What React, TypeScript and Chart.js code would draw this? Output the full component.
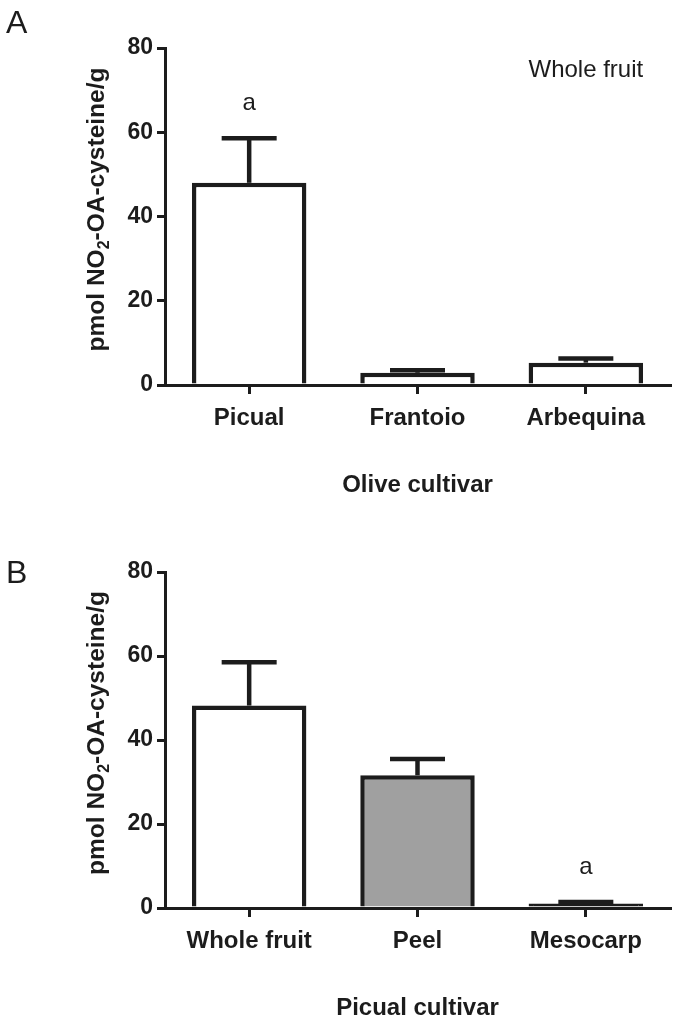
import React, { useEffect, useRef } from "react";
import { Chart, registerables } from "chart.js";

Chart.register(...registerables);

// ---------- data ----------
const categoriesA = ["Picual", "Frantoio", "Arbequina"];
const meansA = [48.0, 2.9, 5.3];
const errTopA = [58.6, 3.5, 6.3];

const categoriesB = ["Whole fruit", "Peel", "Mesocarp"];
const meansB = [48.2, 31.6, 1.1];
const errTopB = [58.5, 35.5, 1.4];

const yTicks = [0, 20, 40, 60, 80];

// annotation texts (category index, value at text baseline)
const notesA = [
  { text: "a", index: 0, value: 65.3 },
  { text: "Whole fruit", index: 2, value: 73.2 },
];
const notesB = [{ text: "a", index: 2, value: 8.1 }];

const xTitleA = "Olive cultivar";
const xTitleB = "Picual cultivar";

// ---------- style ----------
const INK = "#1c1c1c";
const FAMILY = "'Liberation Sans', Arial, Helvetica, sans-serif";
const W = 677;
const H = 511;

type Panel = {
  letter: string;
  letterBaseline: number;
  categories: string[];
  means: number[];
  errTop: number[];
  fills: string[];
  notes: { text: string; index: number; value: number }[];
  xTitle: string;
  top: number;
  bottom: number;
};

const panelA: Panel = {
  letter: "A",
  letterBaseline: 33,
  categories: categoriesA,
  means: meansA,
  errTop: errTopA,
  fills: ["#ffffff", "#ffffff", "#ffffff"],
  notes: notesA,
  xTitle: xTitleA,
  top: 48,
  bottom: 385,
};

const panelB: Panel = {
  letter: "B",
  letterBaseline: 72,
  categories: categoriesB,
  means: meansB,
  errTop: errTopB,
  fills: ["#ffffff", "#a0a0a0", INK],
  notes: notesB,
  xTitle: xTitleB,
  top: 61,
  bottom: 397,
};

function drawYTitle(ctx: CanvasRenderingContext2D, baselineX: number, yc: number) {
  ctx.save();
  ctx.translate(baselineX, yc);
  ctx.rotate(-Math.PI / 2);
  const big = `bold 24.5px ${FAMILY}`;
  const small = `bold 16px ${FAMILY}`;
  const parts = [
    { t: "pmol NO", f: big, dy: 0 },
    { t: "2", f: small, dy: 5 },
    { t: "-OA-cysteine/g", f: big, dy: 0 },
  ];
  let total = 0;
  for (const p of parts) {
    ctx.font = p.f;
    total += ctx.measureText(p.t).width;
  }
  let x = -total / 2;
  ctx.fillStyle = INK;
  ctx.textBaseline = "alphabetic";
  ctx.textAlign = "left";
  for (const p of parts) {
    ctx.font = p.f;
    ctx.fillText(p.t, x, p.dy);
    x += ctx.measureText(p.t).width;
  }
  ctx.restore();
}

function makeOverlay(panel: Panel) {
  return {
    id: "overlay" + panel.letter,
    afterDatasetsDraw(chart: any) {
      const ctx: CanvasRenderingContext2D = chart.ctx;
      const xs = chart.scales.x;
      const ys = chart.scales.y;
      ctx.save();
      ctx.strokeStyle = INK;
      ctx.lineWidth = 4.5;
      ctx.lineCap = "butt";
      panel.means.forEach((m, i) => {
        const x = xs.getPixelForValue(i);
        const yb = ys.getPixelForValue(m);
        const ye = ys.getPixelForValue(panel.errTop[i]);
        ctx.beginPath();
        ctx.moveTo(x, yb);
        ctx.lineTo(x, ye);
        ctx.stroke();
        ctx.beginPath();
        ctx.moveTo(x - 27.5, ye);
        ctx.lineTo(x + 27.5, ye);
        ctx.stroke();
      });
      ctx.restore();
    },
    afterDraw(chart: any) {
      const ctx: CanvasRenderingContext2D = chart.ctx;
      const xs = chart.scales.x;
      const ys = chart.scales.y;
      const area = chart.chartArea;
      ctx.save();
      ctx.fillStyle = INK;
      ctx.font = `24px ${FAMILY}`;
      ctx.textAlign = "center";
      ctx.textBaseline = "alphabetic";
      panel.notes.forEach((n) => {
        ctx.fillText(n.text, xs.getPixelForValue(n.index), ys.getPixelForValue(n.value));
      });
      ctx.font = `bold 24px ${FAMILY}`;
      ctx.textBaseline = "middle";
      ctx.fillText(panel.xTitle, (area.left + area.right) / 2, area.bottom + 100);
      ctx.font = `32px ${FAMILY}`;
      ctx.textAlign = "left";
      ctx.textBaseline = "alphabetic";
      ctx.fillText(panel.letter, 6, panel.letterBaseline);
      ctx.restore();
      drawYTitle(ctx, 104, (area.top + area.bottom) / 2 - 7);
    },
  };
}

function makeConfig(panel: Panel): any {
  return {
    type: "bar",
    data: {
      labels: panel.categories,
      datasets: [
        {
          data: panel.means,
          backgroundColor: panel.fills,
          borderColor: INK,
          borderWidth: 4.5,
          borderSkipped: "start",
          barPercentage: 0.68,
          categoryPercentage: 1,
        },
      ],
    },
    options: {
      responsive: false,
      animation: false,
      devicePixelRatio: 1,
      layout: { padding: { left: 0, right: 7, top: panel.top, bottom: 0 } },
      plugins: {
        legend: { display: false },
        tooltip: { enabled: false },
        title: { display: false },
      },
      scales: {
        x: {
          offset: true,
          ticks: {
            color: INK,
            font: { family: FAMILY, size: 24, weight: "bold" },
            padding: 10,
            maxRotation: 0,
            autoSkip: false,
          },
          grid: {
            display: true,
            offset: false,
            drawOnChartArea: false,
            drawTicks: true,
            tickLength: 9,
            lineWidth: 3,
            color: INK,
          },
          border: { display: true, width: 3, color: INK },
          afterFit: (s: any) => {
            s.height = H - panel.bottom;
          },
        },
        y: {
          min: 0,
          max: 80,
          afterBuildTicks: (s: any) => {
            s.ticks = yTicks.map((v) => ({ value: v }));
          },
          ticks: {
            color: INK,
            font: { family: FAMILY, size: 23, weight: "bold" },
            padding: 4,
          },
          grid: {
            display: true,
            drawOnChartArea: false,
            drawTicks: true,
            tickLength: 8,
            lineWidth: 3,
            color: INK,
          },
          border: { display: true, width: 3, color: INK },
          afterFit: (s: any) => {
            s.width = 165;
          },
        },
      },
    },
    plugins: [makeOverlay(panel)],
  };
}

function PanelChart({ panel, top }: { panel: Panel; top: number }) {
  const ref = useRef<HTMLCanvasElement | null>(null);
  useEffect(() => {
    if (!ref.current) return;
    const chart = new Chart(ref.current, makeConfig(panel));
    return () => chart.destroy();
  }, [panel]);
  return (
    <canvas
      ref={ref}
      width={W}
      height={H}
      style={{ position: "absolute", left: 0, top, width: W, height: H, display: "block" }}
    />
  );
}

export default function App() {
  return (
    <div
      style={{
        position: "absolute",
        left: 0,
        top: 0,
        width: W,
        height: 1022,
        background: "#ffffff",
        overflow: "hidden",
      }}
    >
      <PanelChart panel={panelA} top={0} />
      <PanelChart panel={panelB} top={511} />
    </div>
  );
}
